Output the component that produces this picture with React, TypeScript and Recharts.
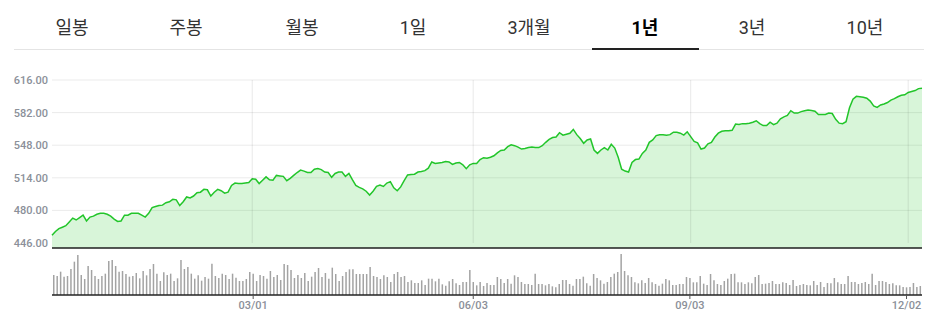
import { Area, AreaChart, Bar, BarChart, CartesianGrid, ReferenceLine, XAxis, YAxis } from "recharts";

// period tabs across the top
const tabLabels = ["일봉", "주봉", "월봉", "1일", "3개월", "1년", "3년", "10년"];
const activeTab = "1년";

// price axis ticks
const priceTicks = [446, 480, 514, 548, 582, 616];

// date ticks (trading-day index -> label)
const dateTickIndex = [58, 122, 185, 248];
const dateTickLabels = ["03/01", "06/03", "09/03", "12/02"];

// daily closing price, one value per trading day
const closePrice = [
  454, 458, 461, 462.5, 464, 468, 472, 470, 472.5, 475,
  469, 473, 474, 476, 477, 477, 476, 474, 471, 468.5,
  469, 475, 475, 477, 477, 477, 475, 473, 477, 483,
  484, 485, 485.5, 488, 489, 491.5, 491, 485, 489, 494,
  493, 495, 498.5, 499, 502, 501.5, 495, 499, 502, 500.5,
  498, 499, 506, 508.5, 508, 508, 508.5, 509, 513, 512.5,
  508, 511.5, 515, 512, 511.5, 516.5, 516, 515.5, 511, 513.5,
  516.5, 519.5, 522, 521, 519.5, 519.5, 523, 523.7, 522.5, 520,
  519.5, 514.5, 518.5, 520, 520, 515.5, 518.5, 512, 506, 504,
  502.5, 500, 496, 500, 505, 506.5, 505, 508.5, 510, 503.5,
  500.5, 504.5, 511, 517, 517.5, 517.7, 520, 520.5, 521.5, 524,
  530.5, 529, 529.5, 530, 531, 530.5, 528, 529.5, 530, 527.5,
  523.5, 527.5, 529, 529, 533, 535, 534.5, 535.5, 537, 540,
  542.5, 543, 546.5, 548.5, 547.5, 546, 544, 544.5, 545.5, 546,
  545.5, 545.5, 547.5, 551, 554, 556, 556.5, 561, 558.5, 559.5,
  560.5, 564.5, 559, 555, 550, 553.5, 554.5, 543, 539.5, 543,
  545.5, 543, 549, 545, 535.5, 523, 521, 520, 530, 533,
  533.5, 539.5, 543, 551, 553.5, 558, 559, 559, 558.5, 559,
  561.5, 561.5, 560.5, 558.5, 562, 557, 552, 550.5, 544, 545,
  549.5, 551, 556.5, 560.5, 562.5, 563, 563, 563.5, 570, 569.5,
  570.5, 570.5, 571, 572, 573.5, 570.5, 568.5, 568.5, 572, 569.5,
  571, 575.5, 577.5, 579, 584, 581.5, 581.5, 583, 584, 584.8,
  584.3, 583.5, 580, 580, 580, 581.5, 581, 575, 571, 570.5,
  572.5, 587, 596, 599, 598.5, 598, 597, 594, 589, 587.5,
  590, 591, 592.5, 595, 596.5, 598.5, 600, 600.5, 603, 604,
  605, 607, 607.5,
];

// daily traded volume (relative units)
const volume = [
  60, 57, 70, 55, 57, 78, 100, 120, 60, 48,
  87, 75, 57, 48, 57, 64, 102, 105, 87, 70,
  72, 63, 55, 57, 66, 50, 72, 59, 78, 93,
  64, 42, 68, 60, 64, 42, 50, 105, 78, 84,
  64, 49, 59, 43, 54, 49, 94, 57, 51, 64,
  60, 48, 64, 52, 42, 42, 48, 69, 64, 42,
  60, 57, 49, 72, 54, 60, 45, 93, 90, 75,
  51, 60, 51, 66, 42, 55, 69, 81, 54, 66,
  49, 82, 63, 42, 57, 69, 77, 77, 63, 63,
  63, 63, 84, 57, 54, 48, 59, 54, 39, 63,
  69, 54, 57, 39, 44, 36, 36, 44, 30, 49,
  49, 41, 49, 32, 28, 41, 48, 35, 30, 39,
  39, 75, 39, 29, 39, 27, 36, 30, 30, 54,
  48, 36, 48, 34, 59, 54, 39, 33, 33, 30,
  64, 33, 33, 29, 33, 26, 23, 33, 45, 45,
  33, 28, 48, 48, 55, 35, 28, 63, 51, 44,
  34, 39, 54, 64, 69, 123, 72, 59, 54, 38,
  35, 44, 36, 51, 38, 33, 28, 34, 48, 44,
  30, 30, 33, 33, 54, 51, 38, 38, 57, 34,
  30, 63, 44, 33, 30, 42, 49, 63, 64, 38,
  38, 33, 38, 35, 54, 60, 33, 34, 36, 42,
  33, 33, 38, 36, 30, 45, 27, 30, 33, 30,
  29, 42, 30, 39, 24, 36, 35, 51, 38, 33,
  33, 57, 39, 39, 33, 36, 39, 33, 64, 30,
  42, 42, 39, 33, 35, 29, 29, 24, 23, 24,
  36, 24, 27,
];

const rows = closePrice.map((price, i) => ({ i, price, vol: volume[i] }));
const lastIdx = rows.length - 1;
const yLow = priceTicks[0];
const yHigh = priceTicks[priceTicks.length - 1];

// label centres of the tabs (px)
const tabCenters = [72, 186, 302, 413, 529, 645, 752, 865];

const tickFont = { fontSize: 11, fill: "#8b9099", fontFamily: "Roboto, sans-serif", fontWeight: 500 };

const App = () => {
  return (
    <div
      style={{
        position: "absolute",
        left: 0,
        top: 0,
        width: 942,
        height: 326,
        background: "#fff",
        overflow: "hidden",
      }}
    >
      {/* Tabs */}
      {tabLabels.map((t, k) => (
        <div
          key={t}
          style={{
            position: "absolute",
            left: tabCenters[k] - 50,
            width: 100,
            top: 15,
            textAlign: "center",
            fontFamily: "Roboto, 'Noto Sans CJK KR', sans-serif",
            fontSize: 18,
            lineHeight: "26px",
            color: t === activeTab ? "#000" : "#333",
            fontWeight: t === activeTab ? 700 : 400,
          }}
        >
          {t}
        </div>
      ))}
      <div style={{ position: "absolute", left: 14, top: 49, width: 910, height: 1, background: "#e4e4e4" }} />
      <div style={{ position: "absolute", left: 592, top: 48, width: 107, height: 2, background: "#222" }} />

      {/* Price chart */}
      <div style={{ position: "absolute", left: 0, top: 0 }}>
        <AreaChart width={942} height={250} data={rows} margin={{ top: 80, right: 20, bottom: 0, left: 0 }}>
          <CartesianGrid stroke="#ebebeb" vertical={false} />
          <XAxis
            dataKey="i"
            type="number"
            domain={[0, lastIdx]}
            ticks={dateTickIndex}
            tick={false}
            tickLine={false}
            axisLine={{ stroke: "#222", strokeWidth: 1.5 }}
            height={2}
          />
          <YAxis
            type="number"
            domain={[440.79, 616]}
            ticks={priceTicks}
            tickFormatter={(v: number) => v.toFixed(2)}
            width={52}
            axisLine={false}
            tickLine={false}
            tickSize={0}
            tickMargin={4}
            tick={tickFont}
          />
          <Area
            type="linear"
            dataKey="price"
            stroke="#22c52a"
            strokeWidth={1.5}
            fill="#25c72b"
            fillOpacity={0.18}
            dot={false}
            activeDot={false}
            isAnimationActive={false}
          />
          {dateTickIndex.map((v) => (
            <ReferenceLine
              key={v}
              segment={[
                { x: v, y: yLow },
                { x: v, y: yHigh },
              ]}
              stroke="#000"
              strokeOpacity={0.09}
              strokeWidth={1}
            />
          ))}
        </AreaChart>
      </div>

      {/* Volume chart */}
      <div style={{ position: "absolute", left: 0, top: 240 }}>
        <BarChart width={942} height={86} data={rows} margin={{ top: 8, right: 20, bottom: 0, left: 52 }}>
          <XAxis
            dataKey="i"
            type="number"
            domain={[-0.5, lastIdx + 0.5]}
            ticks={dateTickIndex}
            tickFormatter={(v: number) => dateTickLabels[dateTickIndex.indexOf(v)]}
            height={31}
            axisLine={{ stroke: "#222", strokeWidth: 1.5 }}
            tickLine={{ stroke: "#555" }}
            tickSize={4}
            tickMargin={2}
            tick={tickFont}
          />
          <YAxis hide domain={[0, 141]} />
          <Bar dataKey="vol" fill="#a3a3a3" barSize={1.5} isAnimationActive={false} />
        </BarChart>
      </div>
    </div>
  );
};

export default App;
